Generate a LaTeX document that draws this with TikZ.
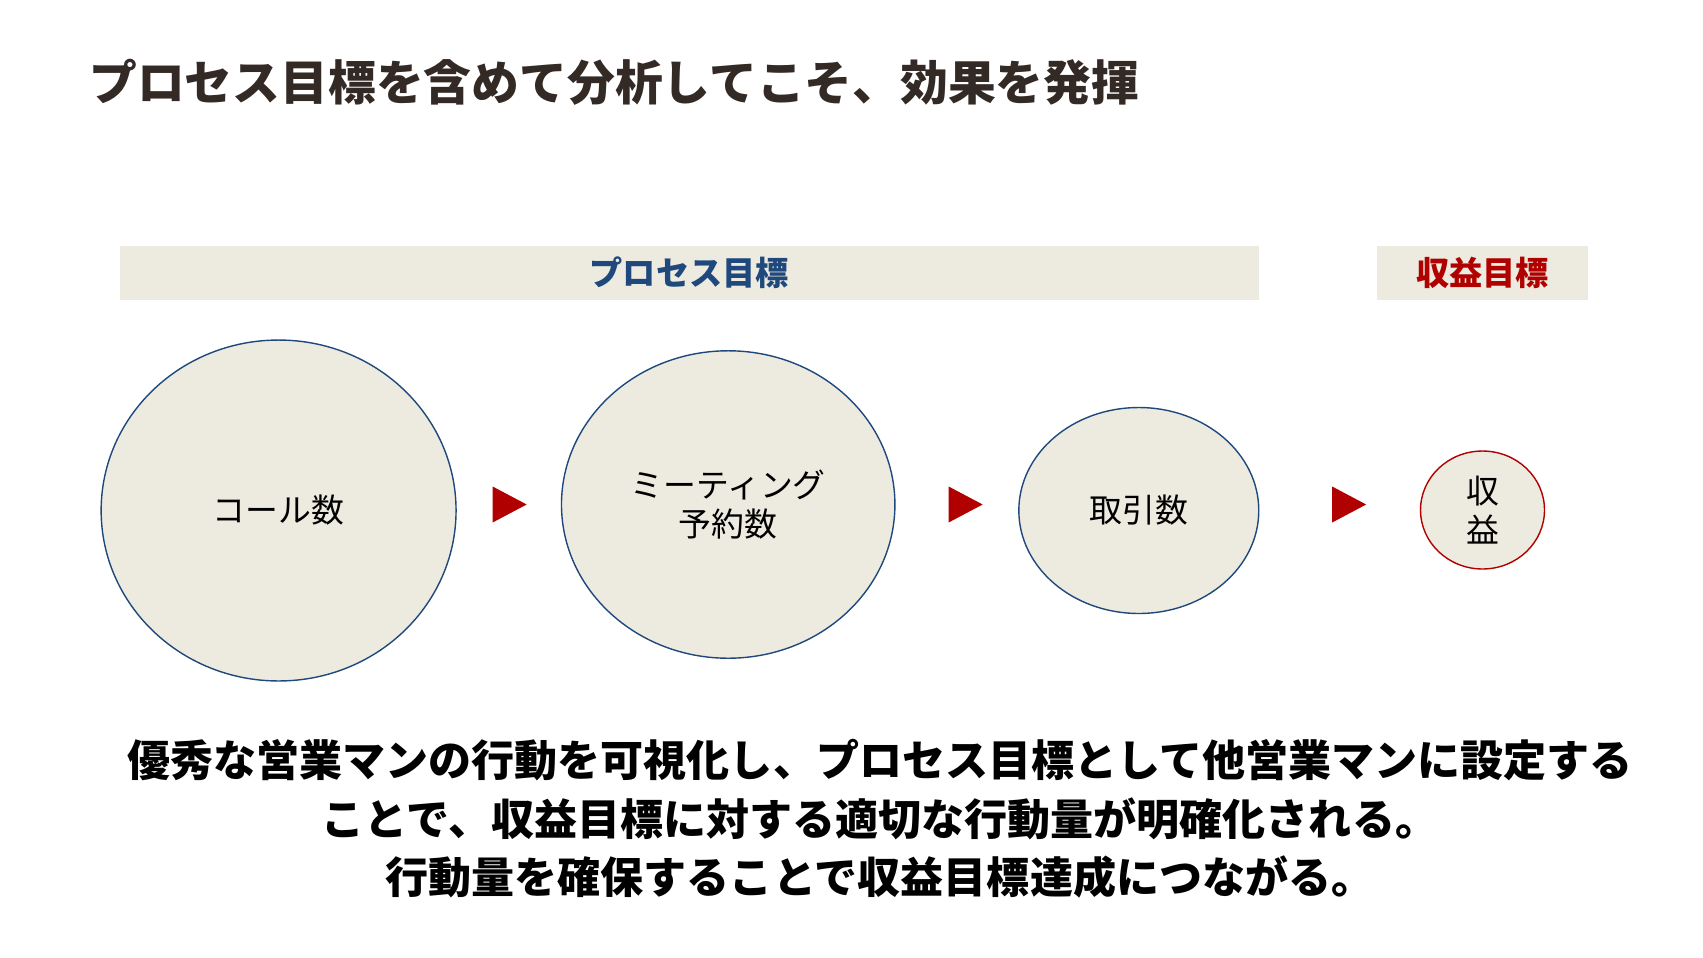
\documentclass[tikz,border=0pt]{standalone}
\usepackage{fontspec}
\setmainfont{Noto Sans CJK JP}
\usepackage{xcolor}
\usepackage{tikz}
\usetikzlibrary{positioning,shapes.geometric}
\definecolor{bandbg}{RGB}{237,235,224}
\definecolor{procblue}{RGB}{31,73,125}
\definecolor{revred}{RGB}{176,0,0}
\definecolor{titlebrown}{RGB}{51,42,38}
\tikzset{
  band/.style={rectangle, fill=bandbg, inner sep=0pt, minimum height=1.07cm, font=\fontsize{18.9}{22}\selectfont\bfseries},
  kpi/.style={ellipse, draw=procblue, line width=0.8pt, fill=bandbg, inner sep=0pt, align=center, font=\fontsize{18.7}{22}\selectfont},
  goal/.style={kpi, draw=revred},
  tri/.style={isosceles triangle, isosceles triangle stretches, shape border rotate=0, fill=revred, inner sep=0pt, minimum width=0.72cm, minimum height=0.68cm}
}

\begin{document}
\begin{tikzpicture}[x=0.02cm, y=-0.02cm]
\useasboundingbox (0,0) rectangle (1703,957);
% title
\node[anchor=west, inner sep=0pt, text=titlebrown, font=\fontsize{27.2}{32}\selectfont\bfseries] (title) at (89,82) {プロセス目標を含めて分析してこそ、効果を発揮};
% header bands
\node[band, minimum width=22.79cm, text=procblue] (procband) at (689.2,273) {プロセス目標};
\node[band, minimum width=4.22cm, text=revred] (revband) at (1482.5,273) {収益目標};
% ellipses
\node[kpi, minimum width=7.10cm, minimum height=6.82cm] (calls) at (278.6,510.5) {コール数};
\node[kpi, minimum width=6.67cm, minimum height=6.15cm] (meetings) at (728.2,504.5) {ミーティング\\予約数};
\node[kpi, minimum width=4.80cm, minimum height=4.12cm] (deals) at (1138.8,510.5) {取引数};
\node[goal, minimum width=2.48cm, minimum height=2.36cm] (revenue) at (1482.5,510) {収\\益};
% arrows
\node[tri] (t1) at (503.5,504.5) {};
\node[tri] (t2) at (959.5,504.5) {};
\node[tri] (t3) at (1343,504.5) {};
% message
\node[align=center, font=\fontsize{24.5}{33.3}\selectfont\bfseries] (msg) at (880,819) {優秀な営業マンの行動を可視化し、プロセス目標として他営業マンに設定する\\ことで、収益目標に対する適切な行動量が明確化される。\\行動量を確保することで収益目標達成につながる。};
\end{tikzpicture}
\end{document}
